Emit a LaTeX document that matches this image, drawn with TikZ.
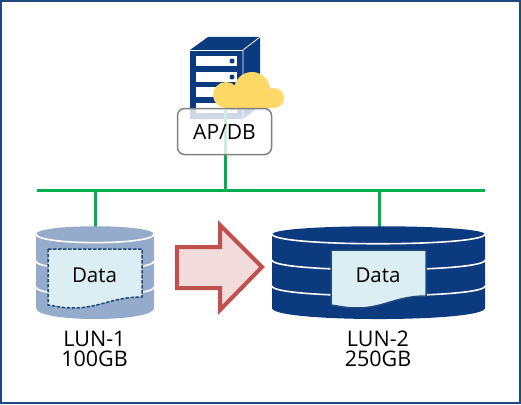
\documentclass[tikz,border=0pt]{standalone}
\usepackage{fontspec}
\setmainfont{Open Sans}
\usepackage{tikz}
\definecolor{navy}{HTML}{0B3A7E}
\definecolor{framenavy}{HTML}{1F497D}
\definecolor{palenavy}{HTML}{95ABCB}
\definecolor{docblue}{HTML}{DBEEF4}
\definecolor{busgreen}{HTML}{00B050}
\definecolor{cloudyellow}{HTML}{FFD966}
\definecolor{arrowred}{HTML}{C0504D}
\definecolor{arrowpink}{HTML}{F2DCDB}
\tikzset{bus/.style={busgreen, line width=3pt},
	band/.style={white, line width=1.6pt},
	lbl/.style={align=center, font=\fontsize{21.5}{20.5}\selectfont, inner sep=0pt},
	datalbl/.style={font=\fontsize{20.5}{20}\selectfont, inner sep=0pt},
}

\begin{document}
\begin{tikzpicture}[x=1pt,y=-1pt]
		\useasboundingbox (0,0) rectangle (521,404);
		\draw[framenavy, line width=2pt] (1,1) rectangle (520,403);
		% server
		\fill[navy] (190,50) -- (208,37) -- (260,37) -- (260,106) -- (243,119) -- (190,119) -- cycle;
		\draw[white, line width=0.8pt] (243,119) -- (243,50) -- (260,37);
		\draw[white, line width=0.8pt] (190,50) -- (243,50);
		\foreach \ytop in {56,72,87,103} {
			\fill[white] (196,\ytop) rectangle (237,\ytop+10);
			\fill[navy] (232,\ytop+5) circle (2.5);
		}
		% cloud
		\fill[cloudyellow] (226,95) circle (13);
		\fill[cloudyellow] (252,90) circle (18);
		\fill[cloudyellow] (274,98) circle (10);
		\fill[cloudyellow] (226,90) rectangle (274,108);
		% network
		\coordinate (busL) at (37,190);
		\coordinate (busR) at (485,190);
		\coordinate (tapA) at (95,190);
		\coordinate (tapB) at (225.5,190);
		\coordinate (tapC) at (379.5,190);
		\coordinate (lunA) at (95,227);
		\coordinate (lunB) at (379.5,227);
		\coordinate (srv) at (225.5,110);
		\draw[bus] (tapB) -- (srv);
		\draw[bus] (busL) -- (busR);
		\draw[bus] (tapA) -- (lunA);
		\draw[bus] (tapC) -- (lunB);
		\node[draw=black!50, line width=1.5pt, fill=white, fill opacity=0.8, text opacity=1, rounded corners=7pt,
			minimum width=94pt, minimum height=46pt, inner sep=0pt, font=\fontsize{21}{20}\selectfont] (apdb) at (224.5,131.5) {AP/DB};
		% small drum
		\fill[palenavy] (36,234.5) .. controls (36,223.5) and (154,223.5) .. (154,234.5)
			-- (154,308) .. controls (154,322.7) and (36,322.7) .. (36,308) -- cycle;
		\draw[band] (36,234) .. controls (36,245.5) and (154,245.5) .. (154,234);
		\draw[band] (36,261) .. controls (36,272) and (154,272) .. (154,261);
		\draw[band] (36,287) .. controls (36,298) and (154,298) .. (154,287);
		\draw[framenavy, line width=1.5pt, dash pattern=on 3.5pt off 1.5pt, fill=docblue] (48,249) -- (142,249) -- (142,297)
			.. controls (112,297) and (100,308) .. (73,308)
			.. controls (62,308) and (55,306) .. (48,305) -- cycle;
		\node[datalbl] (dataA) at (94.5,275) {Data};
		\node[lbl] (lunAlbl) at (94.5,349) {LUN-1\\100GB};
		% arrow
		\draw[arrowred, line width=4pt, fill=arrowpink]
			(177,247) -- (220,247) -- (220,225) -- (262,267) -- (220,310) -- (220,288) -- (177,288) -- cycle;
		% large drum
		\fill[navy] (272,234.5) .. controls (272,223.5) and (485,223.5) .. (485,234.5)
			-- (485,308) .. controls (485,322.7) and (272,322.7) .. (272,308) -- cycle;
		\draw[band] (272,234) .. controls (272,247) and (485,247) .. (485,234);
		\draw[band] (272,260) .. controls (272,273) and (485,273) .. (485,260);
		\draw[band] (272,286) .. controls (272,299) and (485,299) .. (485,286);
		\draw[framenavy, line width=1.5pt, fill=docblue] (331,250) -- (426,250) -- (426,296)
			.. controls (396,296) and (384,308) .. (357,308)
			.. controls (346,308) and (338,306) .. (331,305) -- cycle;
		\node[datalbl] (dataB) at (378,275) {Data};
		\node[lbl] (lunBlbl) at (378,349) {LUN-2\\250GB};
\end{tikzpicture}
\end{document}
